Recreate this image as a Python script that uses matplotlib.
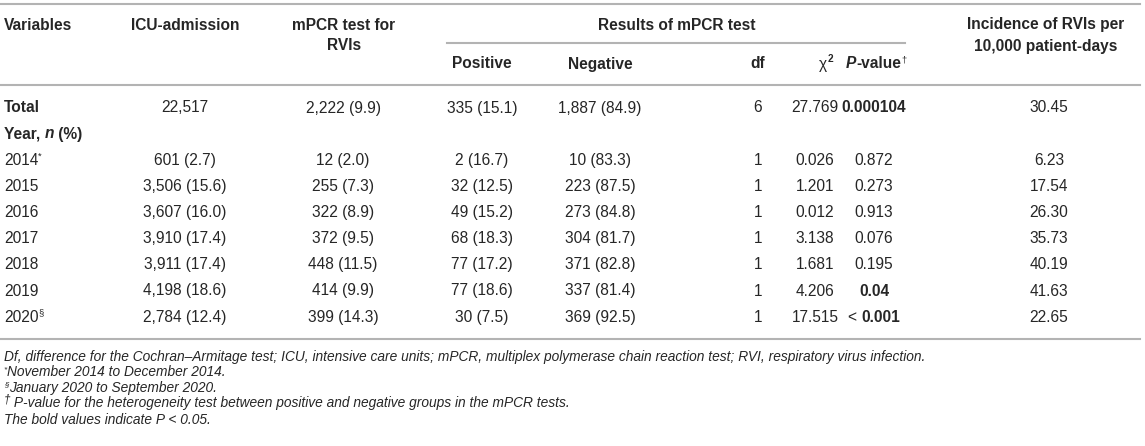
import matplotlib
matplotlib.use("Agg")
import matplotlib.pyplot as plt

plt.rcParams['font.family'] = ['Liberation Sans', 'DejaVu Sans']

# table content
row_labels = ["Total", "2014", "2015", "2016", "2017", "2018", "2019", "2020"]
row_marks = ["", "*", "", "", "", "", "", "§"]
icu = ["22,517", "601 (2.7)", "3,506 (15.6)", "3,607 (16.0)", "3,910 (17.4)",
       "3,911 (17.4)", "4,198 (18.6)", "2,784 (12.4)"]
mpcr = ["2,222 (9.9)", "12 (2.0)", "255 (7.3)", "322 (8.9)", "372 (9.5)",
        "448 (11.5)", "414 (9.9)", "399 (14.3)"]
positive = ["335 (15.1)", "2 (16.7)", "32 (12.5)", "49 (15.2)", "68 (18.3)",
            "77 (17.2)", "77 (18.6)", "30 (7.5)"]
negative = ["1,887 (84.9)", "10 (83.3)", "223 (87.5)", "273 (84.8)", "304 (81.7)",
            "371 (82.8)", "337 (81.4)", "369 (92.5)"]
dfs = ["6", "1", "1", "1", "1", "1", "1", "1"]
chi2 = ["27.769", "0.026", "1.201", "0.012", "3.138", "1.681", "4.206", "17.515"]
pvals = ["0.000104", "0.872", "0.273", "0.913", "0.076", "0.195", "0.04", "0.001"]
p_less = [False, False, False, False, False, False, False, True]
p_bold = [True, False, False, False, False, False, True, True]
incidence = ["30.45", "6.23", "17.54", "26.30", "35.73", "40.19", "41.63", "22.65"]

footnotes = [
    ("", "Df, difference for the Cochran\u2013Armitage test; ICU, intensive care units; "
         "mPCR, multiplex polymerase chain reaction test; RVI, respiratory virus infection."),
    ("*", "November 2014 to December 2014."),
    ("§", "January 2020 to September 2020."),
    ("\u2020", " P-value for the heterogeneity test between positive and negative groups in the mPCR tests."),
    ("", "The bold values indicate P < 0.05."),
]

W, H = 1145, 446
FS = 11.2
FN = 9.9
TXT = "#262626"
LINE = "#b3b3b3"

fig = plt.figure(figsize=(W / 100, H / 100), dpi=100)
ax = fig.add_axes([0, 0, 1, 1])
ax.set_xlim(0, W)
ax.set_ylim(H, 0)
ax.axis("off")
renderer = fig.canvas.get_renderer()


def rich(x, y, pieces, ha="left", size=FS):
    # pieces: (text, weight, style, sup scale or 0)
    arts = []
    for s, weight, style, sup in pieces:
        fs = size * sup if sup else size
        t = ax.text(0, y, s, fontsize=fs, fontweight=weight, fontstyle=style,
                    color=TXT, va="baseline", ha="left")
        arts.append((t, sup))
    widths = [t.get_window_extent(renderer).width for t, _ in arts]
    total = sum(widths)
    x0 = x - total / 2 if ha == "center" else x
    for (t, sup), w in zip(arts, widths):
        t.set_position((x0, y - (size * 0.55 if sup else 0)))
        x0 += w
    return arts


# horizontal rules
ax.plot([0, 1140], [4, 4], color=LINE, lw=1.5)
ax.plot([447, 905], [43, 43], color=LINE, lw=1.5)
ax.plot([0, 1140], [85, 85], color=LINE, lw=1.5)
ax.plot([0, 1140], [339, 339], color=LINE, lw=1.5)

# headers
off = 5.5
ax.text(4, 24 + off, "Variables", fontsize=FS, fontweight="bold", color=TXT, va="baseline")
ax.text(185, 24 + off, "ICU-admission", fontsize=FS, fontweight="bold", color=TXT,
        va="baseline", ha="center")
ax.text(344, 24 + off, "mPCR test for", fontsize=FS, fontweight="bold", color=TXT,
        va="baseline", ha="center")
ax.text(344, 45 + off, "RVIs", fontsize=FS, fontweight="bold", color=TXT,
        va="baseline", ha="center")
ax.text(677, 24 + off, "Results of mPCR test", fontsize=FS, fontweight="bold", color=TXT,
        va="baseline", ha="center")
ax.text(1046, 24 + off, "Incidence of RVIs per", fontsize=FS, fontweight="bold", color=TXT,
        va="baseline", ha="center")
ax.text(1046, 45 + off, "10,000 patient-days", fontsize=FS, fontweight="bold", color=TXT,
        va="baseline", ha="center")
for x, s in [(482, "Positive"), (600, "Negative"), (758, "df")]:
    ax.text(x, 63 + off, s, fontsize=FS, fontweight="bold", color=TXT,
            va="baseline", ha="center")
rich(826, 63 + off, [("\u03c7", "normal", "normal", 0), ("2", "bold", "normal", 0.65)],
     ha="center")
rich(876, 63 + off, [("P", "bold", "italic", 0), ("-value", "bold", "normal", 0),
                     ("\u2020", "normal", "normal", 0.6)], ha="center")

# body rows
ys = [107, 159.5, 185.6, 211.7, 237.8, 263.9, 290.0, 316.1]
rich(4, 133 + off, [("Year, ", "bold", "normal", 0), ("n", "bold", "italic", 0),
                    (" (%)", "bold", "normal", 0)])
cols = [(185, icu), (343, mpcr), (482, positive), (600, negative), (758, dfs),
        (815, chi2), (1049, incidence)]
for i, y in enumerate(ys):
    b = y + off
    if i == 0:
        ax.text(4, b, row_labels[i], fontsize=FS, fontweight="bold", color=TXT, va="baseline")
    else:
        pcs = [(row_labels[i], "normal", "normal", 0)]
        if row_marks[i]:
            pcs.append((row_marks[i], "normal", "normal", 0.6))
        rich(4, b, pcs)
    for x, vals in cols:
        ax.text(x, b, vals[i], fontsize=FS, color=TXT, va="baseline", ha="center")
    w = "bold" if p_bold[i] else "normal"
    if p_less[i]:
        rich(874, b, [("< ", "normal", "normal", 0), (pvals[i], w, "normal", 0)],
             ha="center")
    else:
        ax.text(874, b, pvals[i], fontsize=FS, fontweight=w, color=TXT,
                va="baseline", ha="center")

# footnotes
fy = [356, 372, 387.5, 403, 419]
for (mark, s), y in zip(footnotes, fy):
    pcs = []
    if mark == "\u2020":
        pcs.append((mark, "normal", "italic", 0.85))
    elif mark:
        pcs.append((mark, "normal", "italic", 0.6))
    pcs.append((s, "normal", "italic", 0))
    rich(4, y + 4.5, pcs, size=FN)

fig.savefig("out.png", dpi=100)
